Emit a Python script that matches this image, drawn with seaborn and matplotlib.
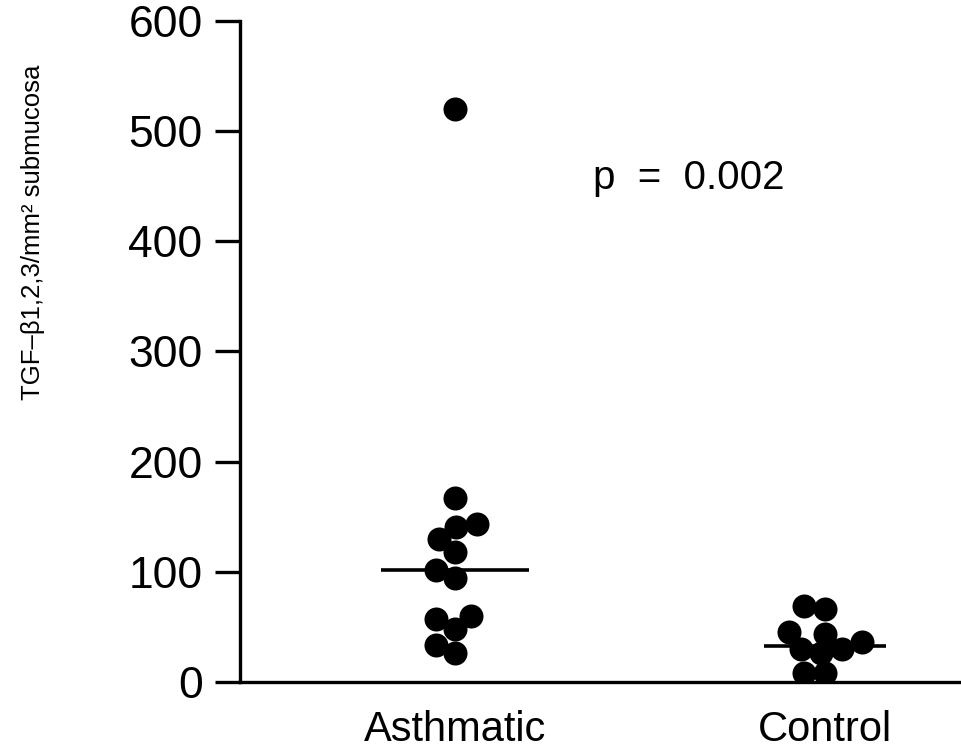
import numpy as np
import pandas as pd
import matplotlib
matplotlib.use("Agg")
import matplotlib.pyplot as plt
from matplotlib.collections import PathCollection
import seaborn as sns

# TGF-beta 1,2,3 immunoreactive cells per mm^2 of bronchial submucosa
groups = ["Asthmatic", "Control"]
asthmatic_counts = [520, 167, 143, 141, 130, 118, 102, 94, 60, 57, 48, 34, 26]
control_counts = [69, 66, 45, 44, 36, 26, 30, 30, 8, 8]
y_ticks = [0, 100, 200, 300, 400, 500, 600]
p_label = "p  =  0.002"
y_label = "TGF\u2013\u03b21,2,3/mm\u00b2 submucosa"

df = pd.DataFrame({
    "group": ["Asthmatic"] * len(asthmatic_counts) + ["Control"] * len(control_counts),
    "count": asthmatic_counts + control_counts,
})

sns.set_theme(style="white")
plt.rcParams["font.family"] = ["Liberation Sans", "DejaVu Sans"]

fig = plt.figure(figsize=(9.62, 7.48), dpi=100)
ax = fig.add_axes([0.2495, 0.0882, 0.7505, 0.884])

sns.swarmplot(data=df, x="group", y="count", order=groups, color="black",
              size=14.5, linewidth=0, ax=ax)

# median bars
half_widths = [0.2, 0.165]
for i, g in enumerate(groups):
    med = np.median(df.loc[df["group"] == g, "count"])
    ax.hlines(med, i - half_widths[i], i + half_widths[i], color="black", lw=2.6, zorder=1)

ax.set_ylim(0, 600)
ax.set_xlim(-0.58, 1.37)
ax.set_yticks(y_ticks)
ax.set_xlabel("")
ax.set_ylabel("")

# run the beeswarm layout once with the compact footprint, then freeze it and
# enlarge the dots so neighbouring points overlap
fig.canvas.draw()
for coll in ax.collections:
    if isinstance(coll, PathCollection):
        if "draw" in coll.__dict__:
            del coll.__dict__["draw"]
        coll.set_sizes([17.3 ** 2])

for side in ["top", "right"]:
    ax.spines[side].set_visible(False)
for side in ["left", "bottom"]:
    ax.spines[side].set_visible(True)
    ax.spines[side].set_color("black")
    ax.spines[side].set_linewidth(2.4)

ax.tick_params(axis="y", direction="out", length=18, width=2.4, color="black",
               pad=9, labelsize=32, labelcolor="black", left=True)
ax.tick_params(axis="x", length=0, pad=20, labelsize=30, labelcolor="black")

ax.text(0.373, 447, p_label, fontsize=29, ha="left", va="baseline", color="black")

fig.text(33 / 962, 1 - 232 / 748, y_label, rotation=90, ha="center", va="center",
         fontsize=18.5, color="black")

fig.savefig("out.png", dpi=100, facecolor="white")
